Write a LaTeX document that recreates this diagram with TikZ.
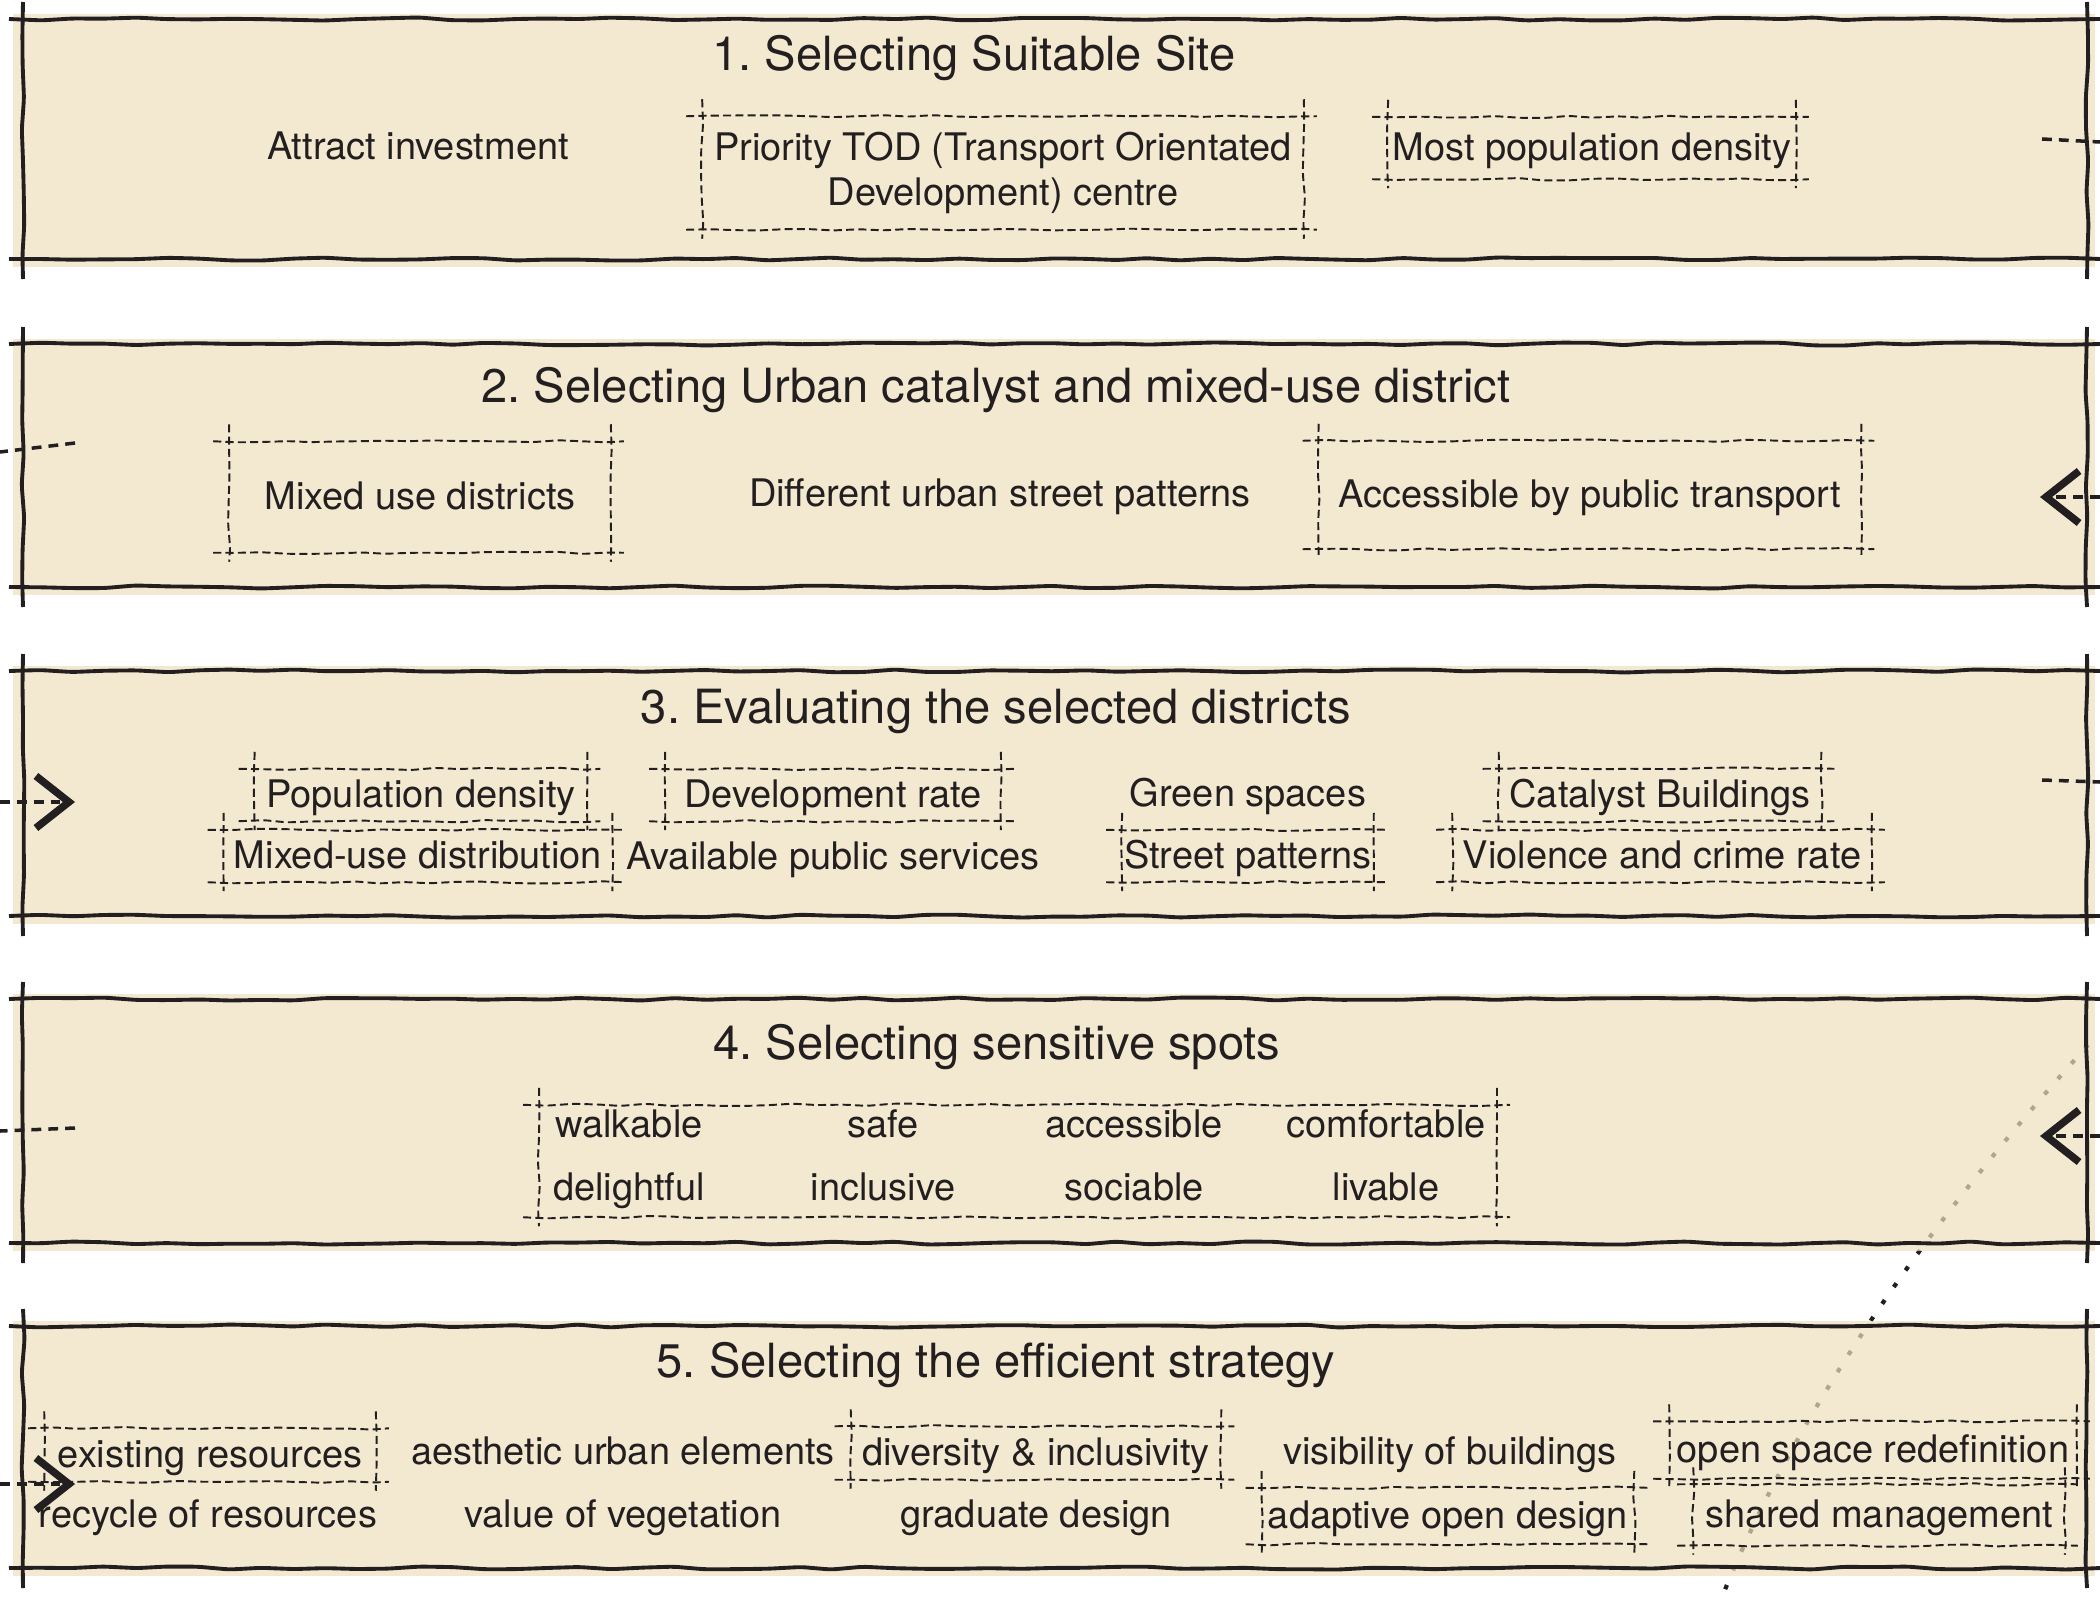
\documentclass[tikz,border=0pt]{standalone}
\usepackage{fontspec}
\setmainfont{TeX Gyre Heros}
\usepackage{tikz}
\usetikzlibrary{arrows.meta, decorations.pathmorphing}

\definecolor{ink}{RGB}{35,31,32}
\definecolor{paper}{RGB}{238,224,188}

\begin{document}
\frenchspacing
\begin{tikzpicture}[
    x=0.01cm, y=-0.01cm,
    >={Straight Barb[length=0.33cm, width=0.52cm, line width=0.075cm]},
    panel/.style={fill=paper, fill opacity=0.7},
    border/.style={draw=ink, line width=1.1pt, rounded corners=1.5pt, decorate, decoration={random steps, segment length=9pt, amplitude=0.45pt}},
    boxline/.style={draw=ink, line width=0.55pt, dash pattern=on 2.3pt off 1.2pt, rounded corners=1pt, decorate, decoration={random steps, segment length=7pt, amplitude=0.35pt}},
    flow/.style={draw=ink, line width=1pt, dash pattern=on 2.8pt off 2pt},
    trail/.style={draw=ink, line width=1.2pt, dash pattern=on 1.3pt off 4.5pt},
    title/.style={text=ink, font=\fontsize{13.4pt}{16pt}\selectfont, inner sep=0pt},
    itemtext/.style={text=ink, font=\fontsize{10.8pt}{13pt}\selectfont, inner sep=0pt},
    item/.style={itemtext, text height=0.93em, text depth=0.21em},
    boxed/.style 2 args={item, minimum width=#1, minimum height=#2},
]
\useasboundingbox (0,0) rectangle (2100,1597);
\pgfmathsetseed{4711}

% ── dotted trail behind the panels ──
\coordinate (trailtop) at (2088,1045);
\coordinate (trailend) at (1722,1597);
\draw[trail] (trailtop) .. controls (1914,1238) and (1792,1422) .. (trailend);

% ── Panels ──
\foreach \t/\b in {19/259, 344/587, 671/916, 999/1243, 1326/1568} {
    \fill[panel] (13,{\t-5}) rectangle (2095,{\b+8});
    \draw[border] (9,\t) -- (2100,\t);
    \draw[border] (9,\b) -- (2100,\b);
    \draw[border] (23,{\t-17}) -- (23,{\b+20});
    \draw[border] (2087,{\t-17}) -- (2087,{\b+20});
}

% ── 1. Site ──
\node[title] (t1) at (974,58) {1. Selecting Suitable Site};
\node[item] (invest) at (418,147) {Attract investment};
\node[itemtext, align=center, minimum width=6cm, minimum height=1.12cm] (tod) at (1003,173) {Priority TOD (Transport Orientated\\Development) centre};
\node[boxed={4.06cm}{0.61cm}] (mostdens) at (1592,148) {Most population density};

% ── 2. Catalyst ──
\node[title] (t2) at (996,390) {2. Selecting Urban catalyst and mixed-use district};
\node[boxed={3.80cm}{1.10cm}] (mixeduse) at (420,497) {Mixed use districts};
\node[item] (streets) at (1000,494) {Different urban street patterns};
\node[boxed={5.41cm}{1.07cm}] (access) at (1590,495) {Accessible by public transport};

% ── 3. Evaluation ──
\node[title] (t3) at (996,711) {3. Evaluating the selected districts};
\node[boxed={3.31cm}{0.51cm}] (popdens) at (421,795) {Population density};
\node[boxed={3.34cm}{0.51cm}] (devrate) at (833,795) {Development rate};
\node[item] (green) at (1248,794) {Green spaces};
\node[boxed={3.21cm}{0.51cm}] (catalyst) at (1660,795) {Catalyst Buildings};
\node[boxed={3.87cm}{0.51cm}] (mixdist) at (418,856) {Mixed-use distribution};
\node[item] (services) at (833,857) {Available public services};
\node[boxed={2.50cm}{0.51cm}] (streetpat) at (1248,856) {Street patterns};
\node[boxed={4.18cm}{0.51cm}] (violence) at (1662,856) {Violence and crime rate};

% ── 4. Spots ──
\node[title] (t4) at (997,1047) {4. Selecting sensitive spots};
\node[boxed={9.56cm}{1.11cm}] (spots) at (1018,1161) {};
\node[item] (walk) at (629,1125) {walkable};
\node[item] (safe) at (883,1125) {safe};
\node[item] (acc) at (1134,1125) {accessible};
\node[item] (comf) at (1386,1125) {comfortable};
\node[item] (delight) at (629,1188) {delightful};
\node[item] (incl) at (883,1188) {inclusive};
\node[item] (soc) at (1134,1188) {sociable};
\node[item] (liv) at (1386,1188) {livable};

% ── 5. Strategy ──
\node[title] (t5) at (996,1365) {5. Selecting the efficient strategy};
\node[boxed={3.30cm}{0.52cm}] (existres) at (210,1455) {existing resources};
\node[item] (aesth) at (623,1452) {aesthetic urban elements};
\node[boxed={3.69cm}{0.52cm}] (divers) at (1036,1453) {diversity \& inclusivity};
\node[item] (visib) at (1450,1452) {visibility of buildings};
\node[boxed={4.06cm}{0.56cm}] (openspace) at (1873,1450) {open space redefinition};
\node[item] (recycle) at (208,1515) {recycle of resources};
\node[item] (veg) at (623,1515) {value of vegetation};
\node[item] (grad) at (1036,1515) {graduate design};
\node[boxed={3.71cm}{0.55cm}] (adaptive) at (1448,1516) {adaptive open design};
\node[boxed={3.70cm}{0.60cm}] (shared) at (1879,1515) {shared management};

% sketchy frames with overshooting corners
\foreach \b in {tod, mostdens, mixeduse, access, popdens, devrate, catalyst, mixdist, streetpat, violence, spots, existres, divers, adaptive, openspace, shared} {
    \draw[boxline] ([xshift=-0.16cm]\b.north west) -- ([xshift=0.13cm]\b.north east);
    \draw[boxline] ([xshift=-0.16cm]\b.south west) -- ([xshift=0.13cm]\b.south east);
    \draw[boxline] ([yshift=0.17cm]\b.north west) -- ([yshift=-0.09cm]\b.south west);
    \draw[boxline] ([yshift=0.17cm]\b.north east) -- ([yshift=-0.09cm]\b.south east);
}

% ── Flow between panels ──
\coordinate (p1out) at (2042,139);
\coordinate (p1edge) at (2100,142);
\coordinate (p2edge) at (2100,497);
\coordinate (p2in) at (2040,497);
\coordinate (p2out) at (75,443);
\coordinate (p2ledge) at (0,452);
\coordinate (p3ledge) at (0,802);
\coordinate (p3in) at (75,802);
\coordinate (p3out) at (2042,780);
\coordinate (p3edge) at (2100,782);
\coordinate (p4edge) at (2100,1136);
\coordinate (p4in) at (2040,1136);
\coordinate (p4out) at (75,1128);
\coordinate (p4ledge) at (0,1131);
\coordinate (p5ledge) at (0,1484);
\coordinate (p5in) at (75,1484);

\draw[flow] (p1out) -- (p1edge);
\draw[flow, ->] (p2edge) -- (p2in);
\draw[flow] (p2out) -- (p2ledge);
\draw[flow, ->] (p3ledge) -- (p3in);
\draw[flow] (p3out) -- (p3edge);
\draw[flow, ->] (p4edge) -- (p4in);
\draw[flow] (p4out) -- (p4ledge);
\draw[flow, ->] (p5ledge) -- (p5in);

\end{tikzpicture}
\end{document}
